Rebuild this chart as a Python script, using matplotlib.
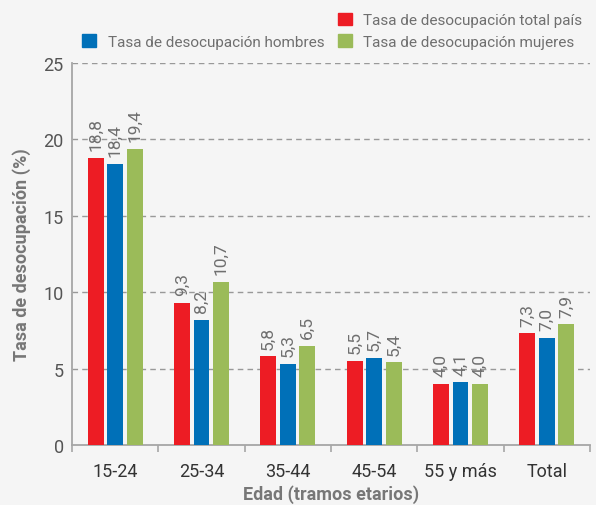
import matplotlib
matplotlib.use("Agg")
import matplotlib.pyplot as plt
import numpy as np
from matplotlib.patches import Patch

plt.rcParams['font.family'] = ['Roboto', 'DejaVu Sans']

categories = ["15-24", "25-34", "35-44", "45-54", "55 y más", "Total"]
total_pais = [18.8, 9.3, 5.8, 5.5, 4.0, 7.3]
hombres = [18.4, 8.2, 5.3, 5.7, 4.1, 7.0]
mujeres = [19.4, 10.7, 6.5, 5.4, 4.0, 7.9]
y_ticks = [0, 5, 10, 15, 20, 25]

c_red = "#ed1c24"
c_blue = "#0070b8"
c_green = "#9bbb59"
bg = "#f5f5f5"

fig = plt.figure(figsize=(5.96, 5.06), dpi=100, facecolor=bg)
ax = fig.add_axes([72/596, 60/506, (590-72)/596, (446-64)/506])
ax.set_facecolor(bg)

x = np.arange(len(categories))
w = 0.185
off = 0.225
series = [(total_pais, c_red, -off), (hombres, c_blue, 0), (mujeres, c_green, off)]
for vals, col, o in series:
    bars = ax.bar(x + o, vals, width=w, color=col, zorder=3)
    for xi, v in zip(x + o, vals):
        ax.text(xi, v + 0.5, f"{v:.1f}".replace(".", ","), rotation=90,
                ha="center", va="bottom", fontsize=12.5, color="#6f6f6f")

ax.set_xlim(-0.5, 5.5)
ax.set_ylim(0, 25)
ax.set_yticks(y_ticks)
ax.set_yticklabels([str(t) for t in y_ticks], fontsize=13, color="#555555")
ax.set_xticks(x)
ax.set_xticklabels(categories, fontsize=13, color="#333333")
ax.set_xticks(np.arange(-0.5, 6.0, 1.0), minor=True)
ax.tick_params(axis="x", which="major", length=0, pad=12)
ax.tick_params(axis="x", which="minor", length=5, color="#a6a6a6", width=1.2)
ax.tick_params(axis="y", length=0, pad=6)
for yv in y_ticks[1:]:
    ax.axhline(yv, color="#999999", linestyle=(0, (4, 3)), linewidth=1, zorder=1)

for s in ["top", "right"]:
    ax.spines[s].set_visible(False)
ax.spines["left"].set_color("#a6a6a6")
ax.spines["left"].set_linewidth(1.3)
ax.spines["bottom"].set_color("#a6a6a6")
ax.spines["bottom"].set_linewidth(1.3)

ax.set_ylabel("Tasa de desocupación (%)", fontsize=13, fontweight="bold",
              color="#777777", labelpad=9)
ax.set_xlabel("Edad (tramos etarios)", fontsize=13, fontweight="bold",
              color="#777777", labelpad=3)

handles = [Patch(visible=False), Patch(color=c_blue), Patch(color=c_red), Patch(color=c_green)]
labels = ["", "Tasa de desocupación hombres", "Tasa de desocupación total país",
          "Tasa de desocupación mujeres"]
leg = fig.legend(handles, labels, ncol=2, loc="upper right", bbox_to_anchor=(1.0, 1.0),
                 frameon=False, fontsize=11, handlelength=0.9, handleheight=0.9,
                 handletextpad=0.75, columnspacing=0.9, labelspacing=0.45)
for t in leg.get_texts():
    t.set_color("#6f6f6f")

fig.savefig("out.png", dpi=100, facecolor=bg)
